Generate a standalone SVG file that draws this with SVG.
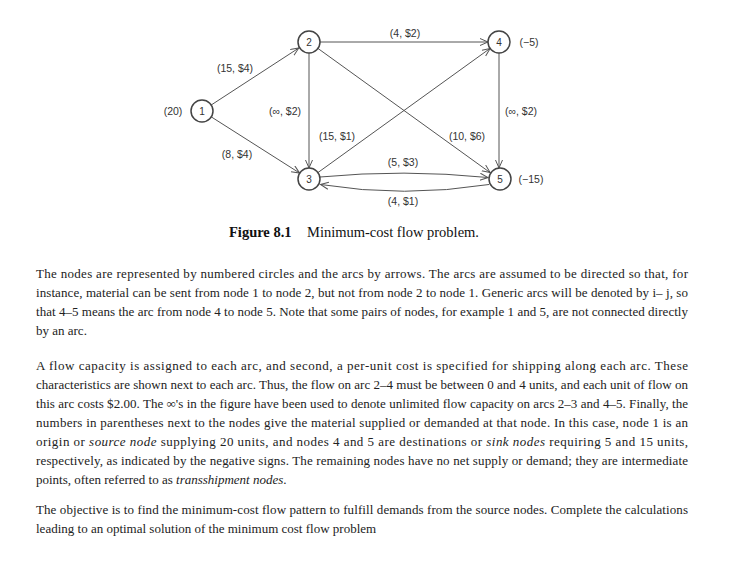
<svg xmlns="http://www.w3.org/2000/svg" width="730" height="562" viewBox="0 0 730 562">
<style>
.bg{fill:#ffffff}
.edge{fill:none;stroke:#555;stroke-width:1}
.node circle{fill:#fff;stroke:#444;stroke-width:1.5}
.nt{font-family:"Liberation Sans",Arial,sans-serif;font-size:10px;fill:#333;text-anchor:middle}
.lbl{font-family:"Liberation Sans",Arial,sans-serif;font-size:10.5px;fill:#333;text-anchor:middle}
.cap{font-family:"Liberation Serif","Times New Roman",serif;font-size:14.5px;fill:#111}
.body{font-family:"Liberation Serif","Times New Roman",serif;font-size:13px;fill:#222}
</style>
<defs>
<marker id="arr" markerUnits="userSpaceOnUse" markerWidth="10" markerHeight="10" refX="8" refY="4" orient="auto">
<path d="M0,0.5 L8,4 L0,7.5" fill="none" stroke="#555" stroke-width="1"/>
</marker>
</defs>
<rect class="bg" x="0" y="0" width="730" height="562"/>
<g id="connectors">
<line class="edge" x1="211.2" y1="105" x2="298.8" y2="48" marker-end="url(#arr)"/>
<line class="edge" x1="211.3" y1="116.9" x2="299.7" y2="173.1" marker-end="url(#arr)"/>
<line class="edge" x1="320" y1="42" x2="488" y2="42" marker-end="url(#arr)"/>
<line class="edge" x1="309" y1="53" x2="309" y2="168" marker-end="url(#arr)"/>
<line class="edge" x1="317.9" y1="48.4" x2="490.1" y2="172.6" marker-end="url(#arr)"/>
<line class="edge" x1="317.9" y1="172.6" x2="490.1" y2="48.4" marker-end="url(#arr)"/>
<line class="edge" x1="499" y1="53" x2="499" y2="168" marker-end="url(#arr)"/>
<path class="edge" d="M320,177 Q404,169 488,177.5" marker-end="url(#arr)"/>
<path class="edge" d="M489,184.5 Q404,198 320.5,184.5" marker-end="url(#arr)"/>
</g>
<g id="edge-labels">
<text class="lbl" x="235" y="71.5">(15, $4)</text>
<text class="lbl" x="237" y="157.5">(8, $4)</text>
<text class="lbl" x="285" y="114.5">(∞, $2)</text>
<text class="lbl" x="405" y="36.5">(4, $2)</text>
<text class="lbl" x="337" y="139.5">(15, $1)</text>
<text class="lbl" x="467" y="139.5">(10, $6)</text>
<text class="lbl" x="521" y="114.5">(∞, $2)</text>
<text class="lbl" x="403" y="165.5">(5, $3)</text>
<text class="lbl" x="403" y="204.5">(4, $1)</text>
</g>
<g id="node1" class="node"><circle cx="202" cy="111" r="11"/><text class="nt" x="202" y="114.5">1</text><text class="lbl" x="173" y="115">(20)</text></g>
<g id="node2" class="node"><circle cx="309" cy="42" r="11"/><text class="nt" x="309" y="45.5">2</text></g>
<g id="node3" class="node"><circle cx="309" cy="179" r="11"/><text class="nt" x="309" y="182.5">3</text></g>
<g id="node4" class="node"><circle cx="499" cy="42" r="11"/><text class="nt" x="499" y="45.5">4</text><text class="lbl" x="529" y="45.5">(−5)</text></g>
<g id="node5" class="node"><circle cx="500" cy="179" r="11"/><text class="nt" x="500" y="182.5">5</text><text class="lbl" x="531" y="183">(−15)</text></g>
<g id="caption">
<text class="cap" x="229" y="237"><tspan font-weight="bold">Figure 8.1</tspan><tspan x="307">Minimum-cost flow problem.</tspan></text>
</g>
<g id="text">
<text class="body" x="36" y="278" textLength="652" lengthAdjust="spacing">The nodes are represented by numbered circles and the arcs by arrows. The arcs are assumed to be directed so that, for</text>
<text class="body" x="36" y="297" textLength="652" lengthAdjust="spacing">instance, material can be sent from node 1 to node 2, but not from node 2 to node 1. Generic arcs will be denoted by i– j, so</text>
<text class="body" x="36" y="316" textLength="652" lengthAdjust="spacing">that 4–5 means the arc from node 4 to node 5. Note that some pairs of nodes, for example 1 and 5, are not connected directly</text>
<text class="body" x="36" y="335">by an arc.</text>
<text class="body" x="36" y="370" textLength="652" lengthAdjust="spacing">A flow capacity is assigned to each arc, and second, a per-unit cost is specified for shipping along each arc. These</text>
<text class="body" x="36" y="389" textLength="652" lengthAdjust="spacing">characteristics are shown next to each arc. Thus, the flow on arc 2–4 must be between 0 and 4 units, and each unit of flow on</text>
<text class="body" x="36" y="408" textLength="652" lengthAdjust="spacing">this arc costs $2.00.  The ∞'s in the figure have been used to denote unlimited flow capacity on arcs 2–3 and 4–5. Finally, the</text>
<text class="body" x="36" y="427" textLength="652" lengthAdjust="spacing">numbers in parentheses next to the nodes give the material supplied or demanded at that node.  In this case, node 1 is an</text>
<text class="body" x="36" y="446" textLength="652" lengthAdjust="spacing">origin or <tspan font-style="italic">source node</tspan> supplying 20 units, and nodes 4 and 5 are destinations or <tspan font-style="italic">sink nodes</tspan> requiring 5 and 15 units,</text>
<text class="body" x="36" y="465" textLength="652" lengthAdjust="spacing">respectively, as indicated by the negative signs. The remaining nodes have no net supply or demand; they are intermediate</text>
<text class="body" x="36" y="484">points, often referred to as <tspan font-style="italic">transshipment nodes</tspan>.</text>
<text class="body" x="36" y="514" textLength="652" lengthAdjust="spacing">The objective is to find the minimum-cost flow pattern to fulfill demands from the source nodes. Complete the calculations</text>
<text class="body" x="36" y="533">leading to an optimal solution of the minimum cost flow problem</text>
</g>
</svg>
